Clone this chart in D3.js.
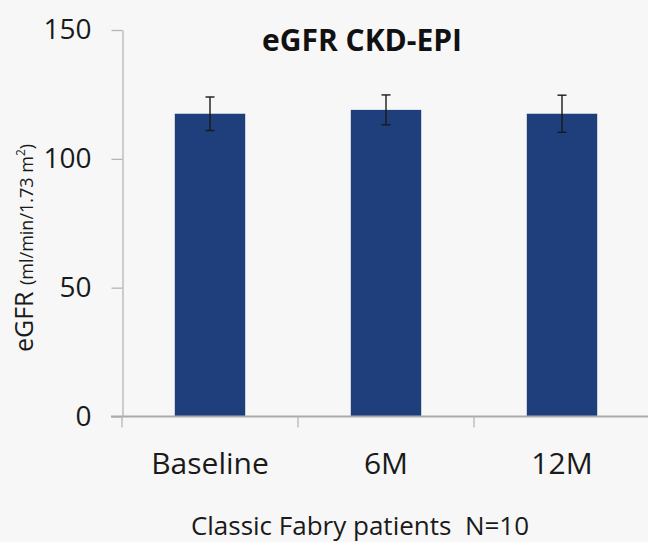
<!DOCTYPE html>
<html>
<head>
<meta charset="utf-8">
<script src="https://cdn.jsdelivr.net/npm/d3@7/dist/d3.min.js"></script>
<style>
  html, body { margin: 0; padding: 0; background: #f7f7f7; }
  svg { display: block; font-family: "Open Sans", sans-serif; }
</style>
</head>
<body>
<svg id="chart" width="648" height="542"></svg>
<script>
// eGFR (CKD-EPI) over follow-up, mean ± SD
const categories = ["Baseline", "6M", "12M"];
const meanValues = [117.5, 119.0, 117.5];
const sdValues = [6.5, 5.8, 7.2];
const yTicks = [0, 50, 100, 150];

const svg = d3.select("#chart");
const W = 648, H = 542;

svg.append("rect").attr("width", W).attr("height", H).attr("fill", "#f7f7f7");

const x = d3.scaleBand()
  .domain(categories)
  .range([122, 650])
  .paddingInner(0.6)
  .paddingOuter(0.3);

const y = d3.scaleLinear().domain([0, 150]).range([416.5, 30]);

// Bars
svg.append("g").selectAll("rect")
  .data(categories)
  .join("rect")
  .attr("x", d => x(d))
  .attr("y", (d, i) => y(meanValues[i]))
  .attr("width", x.bandwidth())
  .attr("height", (d, i) => y(0) - y(meanValues[i]))
  .attr("fill", "#1f3e7c");

// Error bars
const eb = svg.append("g").attr("stroke", "#1a1a1a").attr("stroke-width", 1.4);
categories.forEach((c, i) => {
  const cx = x(c) + x.bandwidth() / 2;
  const top = y(meanValues[i] + sdValues[i]);
  const bot = y(meanValues[i] - sdValues[i]);
  eb.append("line").attr("x1", cx).attr("x2", cx).attr("y1", top).attr("y2", bot);
  eb.append("line").attr("x1", cx - 4.5).attr("x2", cx + 4.5).attr("y1", top).attr("y2", top);
  eb.append("line").attr("x1", cx - 4.5).attr("x2", cx + 4.5).attr("y1", bot).attr("y2", bot);
});

// Y axis
const yAxis = svg.append("g")
  .attr("transform", "translate(122.5,0)")
  .call(d3.axisLeft(y).tickValues(yTicks).tickSize(11).tickPadding(20).tickSizeOuter(0));
yAxis.select(".domain").attr("stroke", "#b5b5b5").attr("stroke-width", 1.3);
yAxis.selectAll(".tick line").attr("stroke", "#b5b5b5").attr("stroke-width", 1.3);
yAxis.selectAll(".tick text")
  .attr("fill", "#1a1a1a")
  .style("font-size", "28px")
  .style("font-family", "'Open Sans', sans-serif");

// X axis baseline with boundary ticks
const xg = svg.append("g");
xg.append("line")
  .attr("x1", 111).attr("x2", W)
  .attr("y1", y(0)).attr("y2", y(0))
  .attr("stroke", "#ababab").attr("stroke-width", 2);
const boundaries = categories.map(c => x(c) - x.step() * x.paddingInner() / 2);
boundaries[0] = x.range()[0];
xg.selectAll("line.tk")
  .data(boundaries)
  .join("line")
  .attr("class", "tk")
  .attr("x1", d => d).attr("x2", d => d)
  .attr("y1", y(0)).attr("y2", y(0) + 11)
  .attr("stroke", "#b5b5b5").attr("stroke-width", 1.3);

xg.selectAll("text")
  .data(categories)
  .join("text")
  .attr("x", d => x(d) + x.bandwidth() / 2)
  .attr("y", 474)
  .attr("text-anchor", "middle")
  .attr("fill", "#1a1a1a")
  .style("font-size", "30px")
  .text(d => d);

// Title
svg.append("text")
  .attr("x", 362).attr("y", 51)
  .attr("text-anchor", "middle")
  .attr("fill", "#111")
  .style("font-size", "30px")
  .style("font-weight", "bold")
  .text("eGFR CKD-EPI");

// X axis title
svg.append("text")
  .attr("x", 360).attr("y", 535)
  .attr("text-anchor", "middle")
  .attr("fill", "#1a1a1a")
  .style("font-size", "26px")
  .text("Classic Fabry patients\u00a0\u00a0N=10");

// Y axis title
const yt = svg.append("text")
  .attr("transform", "translate(33,352) rotate(-90)")
  .attr("fill", "#1a1a1a")
  .style("font-size", "25px");
yt.append("tspan").text("eGFR ");
yt.append("tspan").style("font-size", "18px").text("(ml/min/1.73 m");
yt.append("tspan").style("font-size", "12px").attr("dy", -8).text("2");
yt.append("tspan").style("font-size", "18px").attr("dy", 8).text(")");
</script>
</body>
</html>
